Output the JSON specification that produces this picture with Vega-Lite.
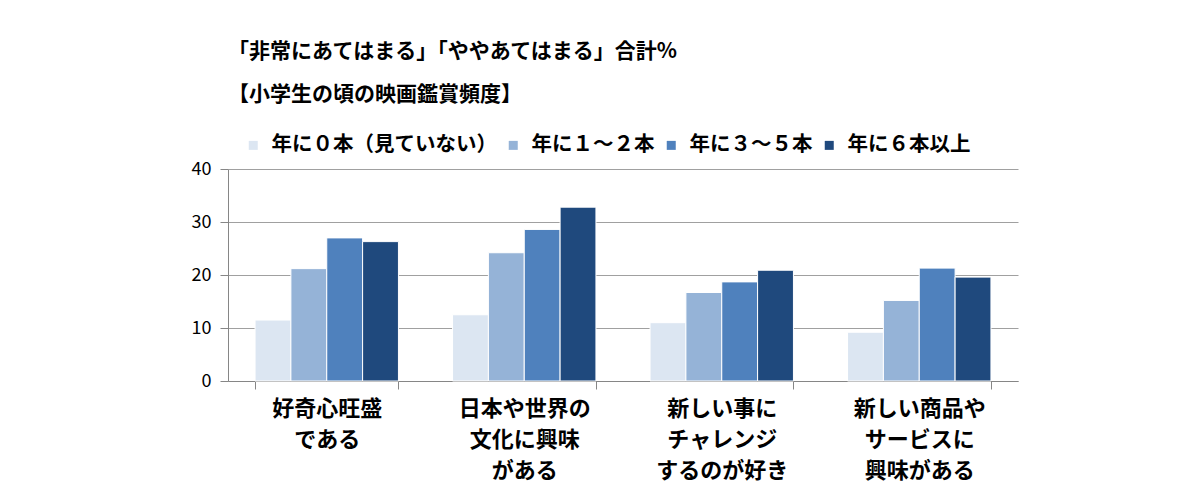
{
  "$schema": "https://vega.github.io/schema/vega-lite/v6.json",
  "autosize": "none",
  "width": 790,
  "height": 212,
  "padding": {"left": 228, "top": 169, "right": 182, "bottom": 119},
  "background": "white",
  "title": {
    "text": ["「非常にあてはまる」「ややあてはまる」合計%", "【小学生の頃の映画鑑賞頻度】"],
    "anchor": "start",
    "frame": "group",
    "font": "Noto Sans CJK JP",
    "fontSize": 21,
    "fontWeight": "bold",
    "color": "#000000",
    "lineHeight": 43,
    "offset": 30
  },
  "config": {
    "font": "Noto Sans CJK JP",
    "view": {"stroke": null}
  },
  "data": {
    "values": [
      {"cat": "好奇心旺盛|である", "freq": "年に０本（見ていない）", "value": 11.5},
      {"cat": "好奇心旺盛|である", "freq": "年に１～２本", "value": 21.2},
      {"cat": "好奇心旺盛|である", "freq": "年に３～５本", "value": 27.0},
      {"cat": "好奇心旺盛|である", "freq": "年に６本以上", "value": 26.3},
      {"cat": "日本や世界の|文化に興味|がある", "freq": "年に０本（見ていない）", "value": 12.5},
      {"cat": "日本や世界の|文化に興味|がある", "freq": "年に１～２本", "value": 24.2},
      {"cat": "日本や世界の|文化に興味|がある", "freq": "年に３～５本", "value": 28.6},
      {"cat": "日本や世界の|文化に興味|がある", "freq": "年に６本以上", "value": 32.8},
      {"cat": "新しい事に|チャレンジ|するのが好き", "freq": "年に０本（見ていない）", "value": 11.0},
      {"cat": "新しい事に|チャレンジ|するのが好き", "freq": "年に１～２本", "value": 16.7},
      {"cat": "新しい事に|チャレンジ|するのが好き", "freq": "年に３～５本", "value": 18.7},
      {"cat": "新しい事に|チャレンジ|するのが好き", "freq": "年に６本以上", "value": 20.9},
      {"cat": "新しい商品や|サービスに|興味がある", "freq": "年に０本（見ていない）", "value": 9.2},
      {"cat": "新しい商品や|サービスに|興味がある", "freq": "年に１～２本", "value": 15.2},
      {"cat": "新しい商品や|サービスに|興味がある", "freq": "年に３～５本", "value": 21.3},
      {"cat": "新しい商品や|サービスに|興味がある", "freq": "年に６本以上", "value": 19.6}
    ]
  },
  "mark": {"type": "bar", "stroke": "white", "strokeWidth": 1},
  "encoding": {
    "x": {
      "field": "cat",
      "type": "nominal",
      "sort": null,
      "title": null,
      "scale": {"paddingInner": 0.274, "paddingOuter": 0.137},
      "axis": {
        "labelAngle": 0,
        "labelExpr": "split(datum.label, '|')",
        "labelFontSize": 22,
        "labelFontWeight": "bold",
        "labelColor": "#000000",
        "labelLineHeight": 31,
        "labelPadding": 9,
        "labelBaseline": "top",
        "tickBand": "extent",
        "tickSize": 8,
        "tickColor": "#868686",
        "domainColor": "#868686",
        "grid": false
      }
    },
    "xOffset": {
      "field": "freq",
      "type": "nominal",
      "sort": ["年に０本（見ていない）", "年に１～２本", "年に３～５本", "年に６本以上"]
    },
    "y": {
      "field": "value",
      "type": "quantitative",
      "title": null,
      "scale": {"domain": [0, 40], "nice": false},
      "axis": {
        "values": [0, 10, 20, 30, 40],
        "labelFontSize": 18,
        "labelColor": "#000000",
        "labelPadding": 9,
        "tickSize": 8,
        "tickColor": "#868686",
        "domainColor": "#868686",
        "gridColor": "#a0a0a0",
        "gridWidth": 1
      }
    },
    "color": {
      "field": "freq",
      "type": "nominal",
      "sort": ["年に０本（見ていない）", "年に１～２本", "年に３～５本", "年に６本以上"],
      "scale": {
        "domain": ["年に０本（見ていない）", "年に１～２本", "年に３～５本", "年に６本以上"],
        "range": ["#DCE6F2", "#95B3D7", "#4F81BD", "#1F497D"]
      },
      "legend": {
        "title": null,
        "orient": "none",
        "direction": "horizontal",
        "legendX": 15,
        "legendY": -34,
        "symbolType": "square",
        "symbolSize": 81,
        "symbolStrokeWidth": 0,
        "labelFontSize": 20.5,
        "labelFontWeight": "bold",
        "labelColor": "#000000",
        "labelLimit": 400,
        "columnPadding": 6,
        "labelOffset": 8
      }
    }
  }
}
